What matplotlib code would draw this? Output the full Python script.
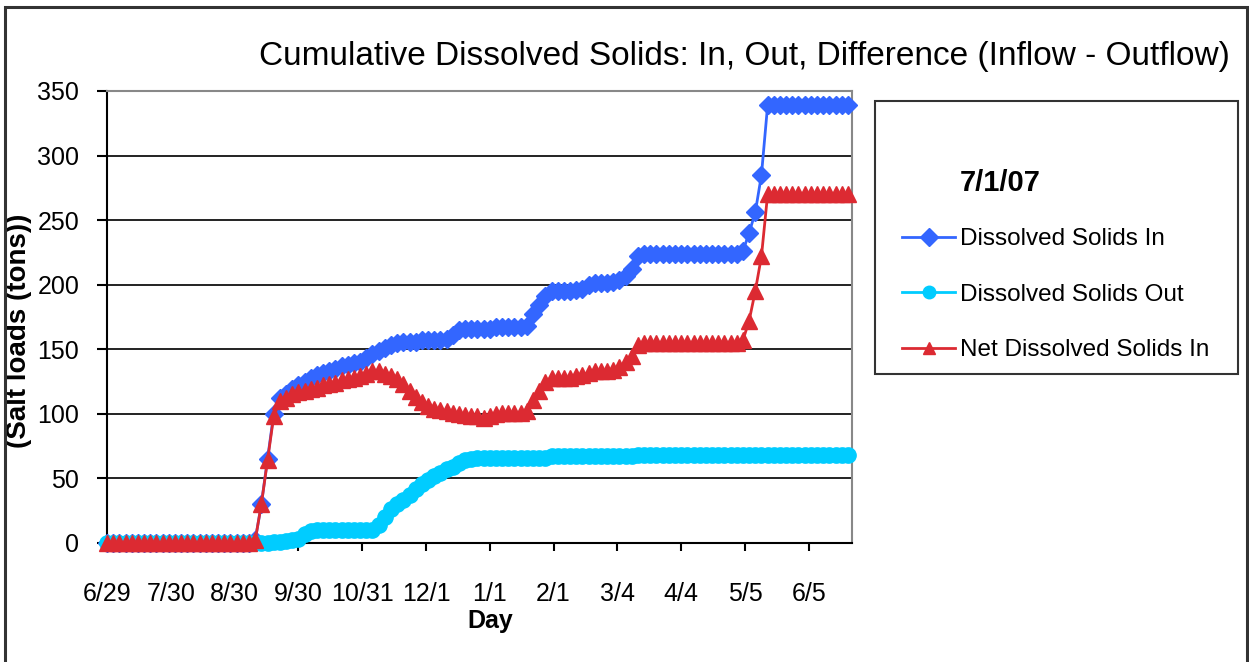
import numpy as np
import matplotlib
matplotlib.use("Agg")
import matplotlib.pyplot as plt
from matplotlib.patches import Rectangle

plt.rcParams['font.family'] = ['Liberation Sans', 'DejaVu Sans']

# days since 6/29/2006, sampled every 3 days
days = np.arange(0, 361, 3)

# cumulative dissolved solids (tons)
solids_in = [
    0, 0, 0, 0, 0, 0, 0, 0, 0, 0, 0, 0, 0, 0, 0, 0, 0, 0, 0, 0, 0, 0, 0, 0,
    2, 30, 65, 100, 112, 115, 119, 122, 125,
    128, 130, 132, 133, 135, 137, 138, 139, 140, 143,
    146, 149, 151, 153, 155, 156, 156, 156, 157, 157,
    157, 157, 158, 161, 165, 166, 166, 166, 166, 166,
    167, 167, 167, 167, 167, 168, 177, 184, 191, 195,
    195, 195, 195, 196, 197, 200, 201, 201, 201, 202,
    204, 207, 212, 222, 224, 224, 224, 224, 224, 224,
    224, 224, 224, 224, 224, 224, 224, 224, 224, 224,
    226, 240, 256, 285, 339,
    339, 339, 339, 339, 339, 339, 339, 339, 339, 339, 339, 339, 339,
]

solids_out = [
    0, 0, 0, 0, 0, 0, 0, 0, 0, 0, 0, 0, 0, 0, 0, 0, 0, 0, 0, 0, 0, 0, 0, 0, 0, 0, 0,
    0.5, 1, 1.5, 2, 3, 7, 9, 10,
    10, 10, 10, 10, 10, 10, 10, 10, 10,
    14, 20, 26, 30, 33, 37, 42, 46, 49, 52,
    54, 57, 59, 62, 64, 65, 65.5,
    65.5, 65.5, 65.5, 65.5, 65.5, 65.5, 65.5, 65.5, 65.5, 65.5,
    66, 67,
    67.5, 67.5, 67.5, 67.5, 67.5, 67.5, 67.5, 67.5, 67.5, 67.5, 67.5, 67.5, 67.5,
    68,
    68.5, 68.5, 68.5, 68.5, 68.5, 68.5, 68.5, 68.5, 68.5, 68.5,
    68.5, 68.5, 68.5, 68.5, 68.5, 68.5, 68.5, 68.5, 68.5, 68.5,
    68.5, 68.5, 68.5, 68.5, 68.5, 68.5, 68.5, 68.5, 68.5, 68.5,
    68.5, 68.5, 68.5, 68.5,
]

solids_net = [
    0, 0, 0, 0, 0, 0, 0, 0, 0, 0, 0, 0, 0, 0, 0, 0, 0, 0, 0, 0, 0, 0, 0, 0,
    2, 30, 64, 98, 110, 112, 115, 117, 118,
    119, 120, 122, 123, 124, 126, 127, 128, 129, 131,
    133, 133, 131, 129, 127, 123, 118, 113, 109, 106,
    104, 103, 102, 101, 100, 99, 98, 98, 97, 98,
    100, 101, 101, 101, 101, 102, 111, 118, 125, 128,
    128, 128, 128, 129, 130, 132, 133, 133, 133, 134,
    136, 140, 145, 153, 155, 155, 155, 155, 155, 155,
    155, 155, 155, 155, 155, 155, 155, 155, 155, 155,
    157, 172, 195, 222, 270,
    270, 270, 270, 270, 270, 270, 270, 270, 270, 270, 270, 270, 270,
]

tick_days = np.arange(0, 342, 31)
tick_labels = ['6/29', '7/30', '8/30', '9/30', '10/31', '12/1',
               '1/1', '2/1', '3/4', '4/4', '5/5', '6/5']

fig = plt.figure(figsize=(12.49, 6.62), dpi=100)
ax = fig.add_axes([107 / 1249, 1 - 543 / 662, 745 / 1249, 452 / 662])

l_in, = ax.plot(days, solids_in, color='#3366FF', lw=2, marker='D', markersize=9.5,
                label='Dissolved Solids In', clip_on=False, zorder=3)
l_out, = ax.plot(days, solids_out, color='#00CCFF', lw=2, marker='o', markersize=11,
                 label='Dissolved Solids Out', clip_on=False, zorder=3)
l_net, = ax.plot(days, solids_net, color='#DC2A32', lw=2, marker='^', markersize=11,
                 label='Net Dissolved Solids In', clip_on=False, zorder=4)

ax.set_xlim(0, 362)
ax.set_ylim(0, 350)
ax.set_yticks(np.arange(0, 351, 50))
ax.set_xticks(tick_days)
ax.set_xticklabels(tick_labels)
ax.tick_params(axis='x', direction='out', length=6, width=1.5, pad=22, labelsize=18)
ax.tick_params(axis='y', direction='out', length=7, width=1.5, pad=13, labelsize=18)
ax.grid(axis='y', color='#222222', lw=1.4)
for side in ['left', 'bottom']:
    ax.spines[side].set_color('black')
    ax.spines[side].set_linewidth(1.5)
for side in ['top', 'right']:
    ax.spines[side].set_color('#888888')
    ax.spines[side].set_linewidth(1.5)

ax.set_xlabel('Day', fontsize=18, fontweight='bold')
ax.xaxis.set_label_coords(0.514, -0.146)
ax.set_ylabel('(Salt loads (tons))', fontsize=20, fontweight='bold')
ax.yaxis.set_label_coords(-0.1, 0.47)

fig.text(744 / 1249, 1 - 57 / 662,
         'Cumulative Dissolved Solids: In, Out, Difference (Inflow - Outflow)',
         ha='center', va='center', fontsize=24)

# legend box
fig.add_artist(Rectangle((875 / 1249, 1 - 374 / 662), 363 / 1249, 273 / 662,
                         transform=fig.transFigure, fill=False, ec='#333333', lw=1.5))
fig.text(960 / 1249, 1 - 183 / 662, '7/1/07', fontsize=21, fontweight='bold',
         ha='left', va='center')
leg = fig.legend(handles=[l_in, l_out, l_net], loc='upper left',
                 bbox_to_anchor=(902 / 1249, 1 - 228 / 662), frameon=False,
                 fontsize=17.5, handlelength=2.2, handletextpad=0.2, labelspacing=1.38,
                 borderpad=0, borderaxespad=0, numpoints=1)
for h in leg.legend_handles:
    h.set_markersize(9)

# outer frame
fig.add_artist(Rectangle((4.5 / 1249, -0.1), 1242 / 1249, 1.1 - 6.5 / 662,
                         transform=fig.transFigure, fill=False, ec='#333333', lw=2.2))

fig.savefig('out.png', dpi=100)
